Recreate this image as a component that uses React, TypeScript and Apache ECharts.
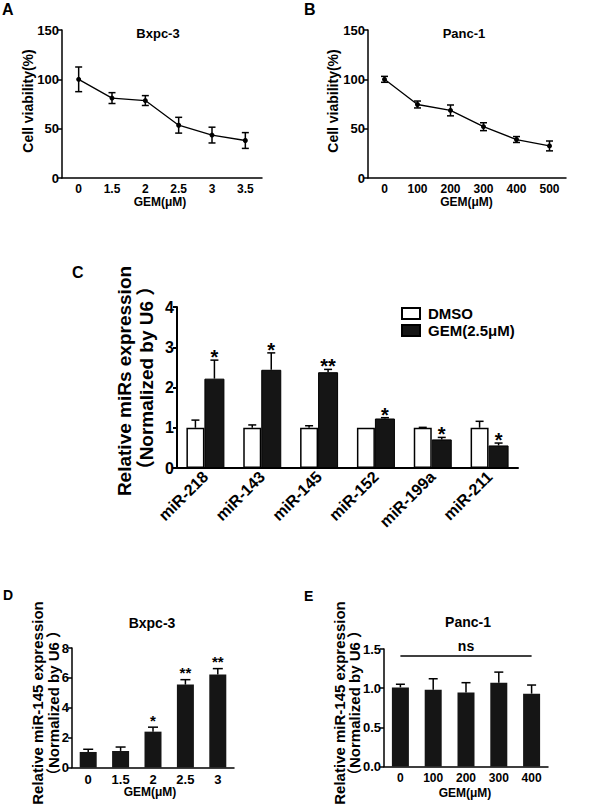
import React, { useEffect, useRef } from 'react';
import * as echarts from 'echarts';

const FONT = '"Liberation Sans", Arial, "Noto Sans CJK SC", sans-serif';

// Panel A: Bxpc-3 viability
const doseBxpc = ['0', '1.5', '2', '2.5', '3', '3.5'];
const viabilityBxpc = [100, 81, 78.5, 53.5, 43.5, 38];
const viabilityBxpcErr = [12.5, 5.5, 5, 8, 8, 8];
// Panel B: Panc-1 viability
const dosePanc = ['0', '100', '200', '300', '400', '500'];
const viabilityPanc = [100, 74.5, 68.5, 52, 39, 32.5];
const viabilityPancErr = [3, 3.5, 5.5, 4, 3, 5];
// Panel C: miR expression
const mirNames = ['miR-218', 'miR-143', 'miR-145', 'miR-152', 'miR-199a', 'miR-211'];
const dmsoExpr = [1, 1, 1, 1, 1, 1];
const dmsoErr = [0.19, 0.07, 0.05, 0, 0.01, 0.16];
const gemExpr = [2.22, 2.44, 2.38, 1.23, 0.71, 0.56];
const gemErr = [0.46, 0.42, 0.07, 0.02, 0.05, 0.06];
const gemSig = ['*', '*', '**', '*', '*', '*'];
// Panel D: miR-145 in Bxpc-3
const doseBxpcD = ['0', '1.5', '2', '2.5', '3'];
const mir145Bxpc = [1.04, 1.11, 2.4, 5.55, 6.22];
const mir145BxpcErr = [0.18, 0.26, 0.3, 0.33, 0.4];
const mir145BxpcSig = ['', '', '*', '**', '**'];
// Panel E: miR-145 in Panc-1
const dosePancE = ['0', '100', '200', '300', '400'];
const mir145Panc = [1.01, 0.98, 0.945, 1.07, 0.93];
const mir145PancErr = [0.04, 0.14, 0.125, 0.135, 0.11];
const nsLevel = 1.42;

const errRender = (
  errs: number[],
  sigs: string[] | null,
  offset: number,
  capW: number,
  both: boolean,
  starSize: number,
  starGap: number
) => (params: any, api: any) => {
  const i = api.value(0);
  const v = api.value(1);
  const e = errs[params.dataIndex];
  const p0 = api.coord([i, v]);
  const pt = api.coord([i, v + e]);
  const pb = api.coord([i, v - e]);
  const x = p0[0] + offset;
  const ls = { stroke: '#000', lineWidth: 1.5 };
  const children: any[] = [];
  if (e > 0) {
    children.push({ type: 'line', shape: { x1: x, y1: both ? pb[1] : p0[1], x2: x, y2: pt[1] }, style: ls });
    children.push({ type: 'line', shape: { x1: x - capW / 2, y1: pt[1], x2: x + capW / 2, y2: pt[1] }, style: ls });
    if (both) {
      children.push({ type: 'line', shape: { x1: x - capW / 2, y1: pb[1], x2: x + capW / 2, y2: pb[1] }, style: ls });
    }
  }
  const s = sigs ? sigs[params.dataIndex] : '';
  if (s) {
    children.push({
      type: 'text',
      x,
      y: pt[1] - starGap,
      style: {
        text: s,
        fill: '#000',
        fontSize: starSize,
        fontWeight: 'bold',
        fontFamily: FONT,
        align: 'center',
        verticalAlign: 'middle',
        textAlign: 'center',
        textVerticalAlign: 'middle',
      },
    });
  }
  return { type: 'group', children };
};

const axisLineStyle = (w: number) => ({ show: true, onZero: false, lineStyle: { color: '#000', width: w } });

const catAxis = (grid: number, data: string[], fontSize: number, extra: any = {}) => ({
  gridIndex: grid,
  type: 'category',
  data,
  boundaryGap: true,
  axisLine: axisLineStyle(extra.lw || 1.5),
  axisTick: { show: false },
  splitLine: { show: false },
  axisLabel: {
    color: '#000',
    fontSize,
    fontWeight: 'bold',
    fontFamily: FONT,
    margin: extra.margin ?? 5,
    rotate: extra.rotate || 0,
    interval: 0,
  },
});

const valAxis = (grid: number, max: number, interval: number, fontSize: number, extra: any = {}) => ({
  gridIndex: grid,
  type: 'value',
  min: 0,
  max,
  interval,
  axisLine: axisLineStyle(extra.lw || 1.5),
  axisTick: { show: true, inside: false, length: 4, lineStyle: { color: '#000', width: extra.lw || 1.5 } },
  splitLine: { show: false },
  axisLabel: {
    color: '#000',
    fontSize,
    fontWeight: 'bold',
    fontFamily: FONT,
    margin: extra.margin ?? 3,
    formatter: extra.formatter,
  },
});

const txt = (text: string, x: number, y: number, size: number, opts: any = {}) => ({
  type: 'text',
  x,
  y,
  rotation: opts.rotate ? Math.PI / 2 : 0,
  style: {
    text,
    fill: '#000',
    fontSize: size,
    fontWeight: 'bold',
    fontFamily: FONT,
    align: opts.align || 'center',
    verticalAlign: opts.valign || 'middle',
    textAlign: opts.align || 'center',
    textVerticalAlign: opts.valign || 'middle',
  },
});

export default function App() {
  const ref = useRef<HTMLDivElement>(null);
  useEffect(() => {
    if (!ref.current) return;
    const chart = echarts.init(ref.current, null, { renderer: 'svg' });
    const idx = (arr: any[]) => arr.map((v, i) => [i, v]);
    const option: any = {
      animation: false,
      backgroundColor: '#fff',
      textStyle: { fontFamily: FONT },
      grid: [
        { left: 62, top: 30, width: 200, height: 148, outerBoundsMode: 'none', containLabel: false },
        { left: 368, top: 30, width: 198, height: 148, outerBoundsMode: 'none', containLabel: false },
        { left: 177, top: 307, width: 341, height: 161, outerBoundsMode: 'none', containLabel: false },
        { left: 72, top: 648, width: 162, height: 119.5, outerBoundsMode: 'none', containLabel: false },
        { left: 384, top: 649, width: 164, height: 117.5, outerBoundsMode: 'none', containLabel: false },
      ],
      xAxis: [
        catAxis(0, doseBxpc, 12),
        catAxis(1, dosePanc, 12),
        catAxis(2, mirNames, 16, { rotate: 45, margin: 6, lw: 2 }),
        catAxis(3, doseBxpcD, 13),
        catAxis(4, dosePancE, 12),
      ],
      yAxis: [
        valAxis(0, 150, 50, 13),
        valAxis(1, 150, 50, 13),
        valAxis(2, 4, 1, 16, { lw: 2 }),
        valAxis(3, 8, 2, 13),
        valAxis(4, 1.5, 0.5, 13, { formatter: (v: number) => v.toFixed(1) }),
      ],
      legend: {
        data: ['DMSO', 'GEM(2.5μM)'],
        orient: 'vertical',
        left: 401,
        top: 306,
        padding: 0,
        itemWidth: 18,
        itemHeight: 11,
        itemGap: 2,
        icon: 'rect',
        textStyle: { color: '#000', fontSize: 15, fontWeight: 'bold', fontFamily: FONT, lineHeight: 13, padding: [0, 0, 0, 3] },
      },
      series: [
        {
          type: 'line', xAxisIndex: 0, yAxisIndex: 0, data: viabilityBxpc,
          symbol: 'circle', symbolSize: 5, z: 3,
          lineStyle: { color: '#000', width: 1.3 }, itemStyle: { color: '#000' },
        },
        {
          type: 'custom', xAxisIndex: 0, yAxisIndex: 0, data: idx(viabilityBxpc), encode: { x: 0, y: 1 }, z: 4,
          renderItem: errRender(viabilityBxpcErr, null, 0, 7, true, 0, 0),
        },
        {
          type: 'line', xAxisIndex: 1, yAxisIndex: 1, data: viabilityPanc,
          symbol: 'circle', symbolSize: 5, z: 3,
          lineStyle: { color: '#000', width: 1.3 }, itemStyle: { color: '#000' },
        },
        {
          type: 'custom', xAxisIndex: 1, yAxisIndex: 1, data: idx(viabilityPanc), encode: { x: 0, y: 1 }, z: 4,
          renderItem: errRender(viabilityPancErr, null, 0, 7, true, 0, 0),
        },
        {
          name: 'DMSO', type: 'bar', xAxisIndex: 2, yAxisIndex: 2, data: dmsoExpr,
          barWidth: 18, barGap: '0%',
          itemStyle: { color: '#fff', borderColor: '#000', borderWidth: 1.5 },
        },
        {
          name: 'GEM(2.5μM)', type: 'bar', xAxisIndex: 2, yAxisIndex: 2, data: gemExpr,
          barWidth: 20, barGap: '0%',
          itemStyle: { color: '#151515', borderColor: '#000', borderWidth: 1 },
        },
        {
          type: 'custom', xAxisIndex: 2, yAxisIndex: 2, data: idx(dmsoExpr), encode: { x: 0, y: 1 }, z: 4,
          renderItem: errRender(dmsoErr, null, -10, 8, false, 0, 0),
        },
        {
          type: 'custom', xAxisIndex: 2, yAxisIndex: 2, data: idx(gemExpr), encode: { x: 0, y: 1 }, z: 4,
          renderItem: errRender(gemErr, gemSig, 9, 8, false, 20, 3),
        },
        {
          type: 'bar', xAxisIndex: 3, yAxisIndex: 3, data: mir145Bxpc, barWidth: 17,
          itemStyle: { color: '#151515' },
        },
        {
          type: 'custom', xAxisIndex: 3, yAxisIndex: 3, data: idx(mir145Bxpc), encode: { x: 0, y: 1 }, z: 4,
          renderItem: errRender(mir145BxpcErr, mir145BxpcSig, 0, 10, false, 15, 7),
        },
        {
          type: 'bar', xAxisIndex: 4, yAxisIndex: 4, data: mir145Panc, barWidth: 17,
          itemStyle: { color: '#151515' },
          markLine: {
            silent: true,
            symbol: ['none', 'none'],
            lineStyle: { color: '#000', width: 1.5, type: 'solid' },
            label: { show: true, position: 'middle', formatter: 'ns', color: '#000', fontSize: 14, fontWeight: 'bold', fontFamily: FONT, distance: 2 },
            data: [[{ coord: [dosePancE[0], nsLevel] }, { coord: [dosePancE[dosePancE.length - 1], nsLevel] }]],
          },
        },
        {
          type: 'custom', xAxisIndex: 4, yAxisIndex: 4, data: idx(mir145Panc), encode: { x: 0, y: 1 }, z: 4,
          renderItem: errRender(mir145PancErr, null, 0, 9, false, 0, 0),
        },
      ],
      graphic: {
        elements: [
          txt('A', 2, 1, 16, { align: 'left', valign: 'top' }),
          txt('B', 304, 1, 16, { align: 'left', valign: 'top' }),
          txt('C', 72, 264, 16, { align: 'left', valign: 'top' }),
          txt('D', 3, 588, 14, { align: 'left', valign: 'top' }),
          txt('E', 304, 589, 14, { align: 'left', valign: 'top' }),
          txt('Bxpc-3', 158, 33, 13),
          txt('Panc-1', 464, 33, 13),
          txt('Bxpc-3', 152, 623, 14),
          txt('Panc-1', 468, 622, 14),
          txt('Cell viability(%)', 27.5, 101, 14, { rotate: true }),
          txt('Cell viability(%)', 332.5, 101, 14, { rotate: true }),
          txt('GEM(μM)', 160, 201.5, 12),
          txt('GEM(μM)', 466.5, 201.5, 12),
          txt('Relative miRs expression', 124, 381, 19, { rotate: true }),
          txt('（Normalized by U6 ）', 146, 378, 19, { rotate: true }),
          txt('Relative miR-145 expression', 37.5, 703, 15, { rotate: true }),
          txt('（Normalized by U6 ）', 53.5, 703, 15, { rotate: true }),
          txt('Relative miR-145 expression', 339, 703, 15, { rotate: true }),
          txt('（Normalized by U6 ）', 354.5, 703, 15, { rotate: true }),
          txt('GEM(μM)', 150, 792, 12),
          txt('GEM(μM)', 465, 793, 12),
        ],
      },
    };
    chart.setOption(option);
    return () => chart.dispose();
  }, []);
  return (
    <div
      ref={ref}
      style={{ position: 'absolute', left: 0, top: 0, width: 600, height: 812, background: '#fff' }}
    />
  );
}
